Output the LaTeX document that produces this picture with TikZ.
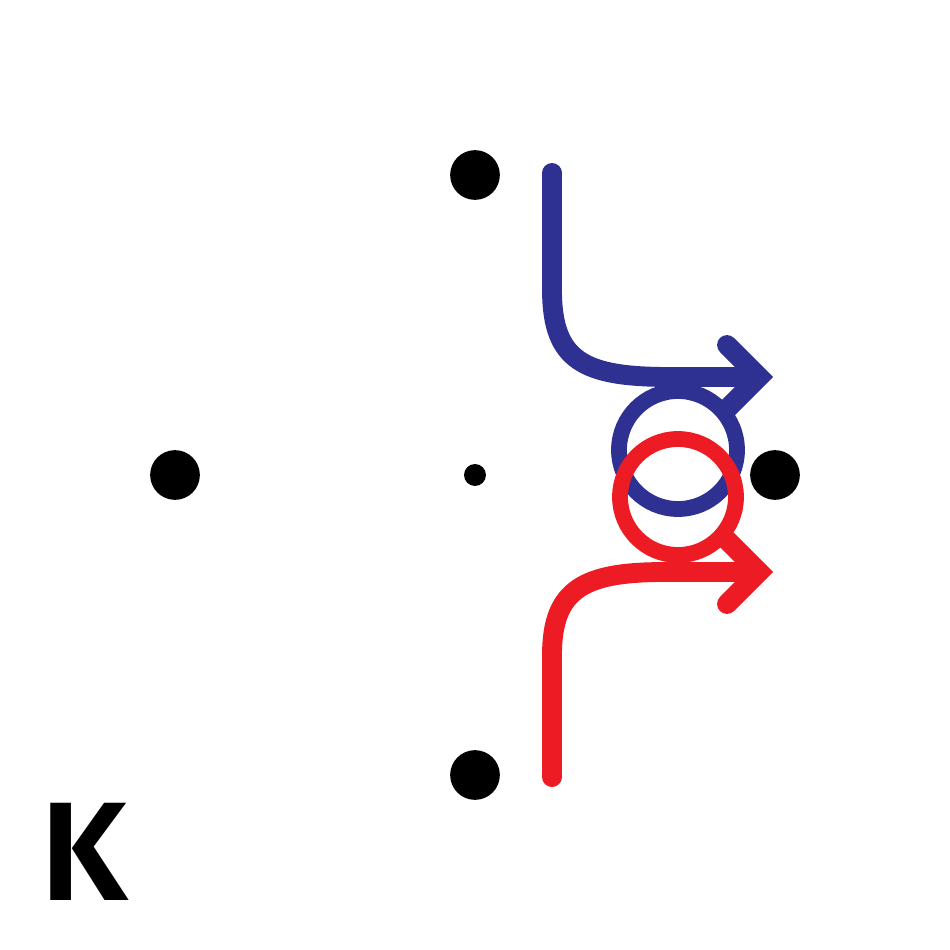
\documentclass[tikz,border=0pt]{standalone}
\usepackage{fontspec}
\newfontfamily\kfont{Fira Sans SemiBold}
\definecolor{kblue}{HTML}{2E3192}
\definecolor{kred}{HTML}{ED1C24}
\begin{document}
\begin{tikzpicture}[x=0.02cm,y=-0.02cm,
  bigdot/.style={fill=black,circle,inner sep=0pt,minimum size=28.3pt},
  smalldot/.style={fill=black,circle,inner sep=0pt,minimum size=12.5pt},
  flow/.style={line width=11.3pt,line cap=round},
  ring/.style={line width=9pt},
  chev/.style={line width=11.3pt,line cap=round,line join=miter}]
\useasboundingbox (0,0) rectangle (950,950);
\node[bigdot] (n) at (475,175) {};
\node[bigdot] (w) at (175,475) {};
\node[smalldot] (c) at (475,475) {};
\node[bigdot] (e) at (775,475) {};
\node[bigdot] (s) at (475,775) {};
% blue
\draw[kblue,ring] (678,450) circle (59);
\coordinate (bs) at (552,173);
\coordinate (bv) at (759,377);
\draw[kblue,flow,line cap=butt] (bs) -- (552,290) .. controls (552,362) and (585,377) .. (670,377) -- (bv);
\fill[kblue] (bs) circle (10);
\draw[kblue,chev] (727,345) -- (bv) -- (727,409);
% red
\draw[kred,ring] (678,497) circle (58);
\coordinate (rs) at (552,777);
\coordinate (rv) at (759,572);
\draw[kred,flow,line cap=butt] (rs) -- (552,655) .. controls (552,588) and (585,572) .. (665,572) -- (rv);
\fill[kred] (rs) circle (10);
\draw[kred,chev] (727,540) -- (rv) -- (727,604);
\node[anchor=base west,inner sep=0pt,font=\kfont\fontsize{80}{80}\selectfont] (k) at (40,900) {K};
\end{tikzpicture}
\end{document}
